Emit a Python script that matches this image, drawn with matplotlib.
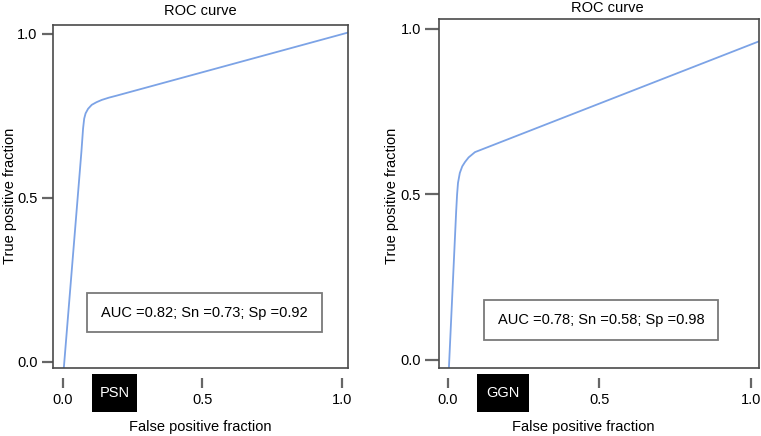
import matplotlib
matplotlib.use("Agg")
import matplotlib.pyplot as plt
from matplotlib.patches import Rectangle

plt.rcParams['font.family'] = ['Liberation Sans', 'DejaVu Sans']

# ---- data ----
psn_fpf = [0.003, 0.066, 0.072, 0.076, 0.081, 0.090, 0.103, 0.120, 0.139, 0.165, 0.192, 1.02]
psn_tpf = [-0.018, 0.641, 0.712, 0.742, 0.758, 0.772, 0.784, 0.792, 0.799, 0.806, 0.812, 1.004]
ggn_fpf = [0.003, 0.027, 0.030, 0.033, 0.039, 0.047, 0.056, 0.068, 0.089, 1.03]
ggn_tpf = [-0.024, 0.45, 0.50, 0.535, 0.565, 0.585, 0.598, 0.612, 0.628, 0.964]
tick_vals = [0.0, 0.5, 1.0]
tick_labels = ["0.0", "0.5", "1.0"]
panel_names = ["PSN", "GGN"]
stats_text = ["AUC =0.82; Sn =0.73; Sp =0.92", "AUC =0.78; Sn =0.58; Sp =0.98"]

W, H = 761, 436
fig = plt.figure(figsize=(W / 100, H / 100), dpi=100)

def fx(x):
    return x / W

def fy(y):
    return 1 - y / H

LINE_C = '#7ca3e6'
SPINE_C = '#4a4a4a'
TICK_C = '#666666'
FS = 10.5

panels = [
    dict(box=(53, 25, 348, 368), xlim=(-0.0358, 1.0215), ylim=(-0.0183, 1.0274),
         x=psn_fpf, y=psn_tpf, ytl=8,
         title=(200, 11), xlab=(200, 427), ylab=(10, 196),
         name_box=(92, 374, 137, 412), stat_box=(87, 293, 322, 332)),
    dict(box=(439, 19, 759, 368), xlim=(-0.0297, 1.0264), ylim=(-0.0242, 1.0302),
         x=ggn_fpf, y=ggn_tpf, ytl=10,
         title=(607, 8), xlab=(583, 427), ylab=(392, 196),
         name_box=(477, 374, 529, 412), stat_box=(484, 300, 718, 340)),
]

for i, p in enumerate(panels):
    l, t, r, b = p['box']
    ax = fig.add_axes([fx(l), fy(b), fx(r) - fx(l), fy(t) - fy(b)])
    ax.plot(p['x'], p['y'], color=LINE_C, lw=1.3, solid_capstyle='round',
            solid_joinstyle='round')
    ax.set_xlim(*p['xlim'])
    ax.set_ylim(*p['ylim'])
    for s in ax.spines.values():
        s.set_color(SPINE_C)
        s.set_linewidth(1.2)
    ax.set_yticks(tick_vals)
    ax.set_yticklabels(tick_labels, fontsize=FS)
    ax.tick_params(axis='y', direction='out', length=p['ytl'], width=1.6,
                   color=TICK_C, pad=3)
    ax.set_xticks([])

    # detached x ticks
    ax2 = ax.twiny()
    ax2.set_xlim(*p['xlim'])
    for s in ax2.spines.values():
        s.set_visible(False)
    ax2.xaxis.set_ticks_position('bottom')
    ax2.xaxis.set_label_position('bottom')
    ax2.spines['bottom'].set_position(('outward', 7.2))
    ax2.set_xticks(tick_vals)
    ax2.set_xticklabels(tick_labels, fontsize=FS)
    ax2.tick_params(axis='x', direction='out', length=7.5, width=1.6,
                    color=TICK_C, pad=3)

    fig.text(fx(p['title'][0]), fy(p['title'][1]), "ROC curve", fontsize=FS,
             ha='center', va='center')
    fig.text(fx(p['xlab'][0]), fy(p['xlab'][1]), "False positive fraction",
             fontsize=FS, ha='center', va='center')
    fig.text(fx(p['ylab'][0]), fy(p['ylab'][1]), "True positive fraction",
             fontsize=FS, ha='center', va='center', rotation=90)

    nl, nt, nr, nb = p['name_box']
    fig.patches.append(Rectangle((fx(nl), fy(nb)), fx(nr) - fx(nl), fy(nt) - fy(nb),
                                 transform=fig.transFigure, facecolor='black',
                                 edgecolor='black', lw=0))
    fig.text(fx((nl + nr) / 2), fy((nt + nb) / 2), panel_names[i], fontsize=FS,
             color='white', ha='center', va='center')

    sl, st, sr, sb = p['stat_box']
    fig.patches.append(Rectangle((fx(sl), fy(sb)), fx(sr) - fx(sl), fy(st) - fy(sb),
                                 transform=fig.transFigure, facecolor='white',
                                 edgecolor='#7a7a7a', lw=1.3, zorder=5))
    fig.text(fx((sl + sr) / 2), fy((st + sb) / 2), stats_text[i], fontsize=FS,
             ha='center', va='center', zorder=6)

fig.savefig("out.png", dpi=100)
